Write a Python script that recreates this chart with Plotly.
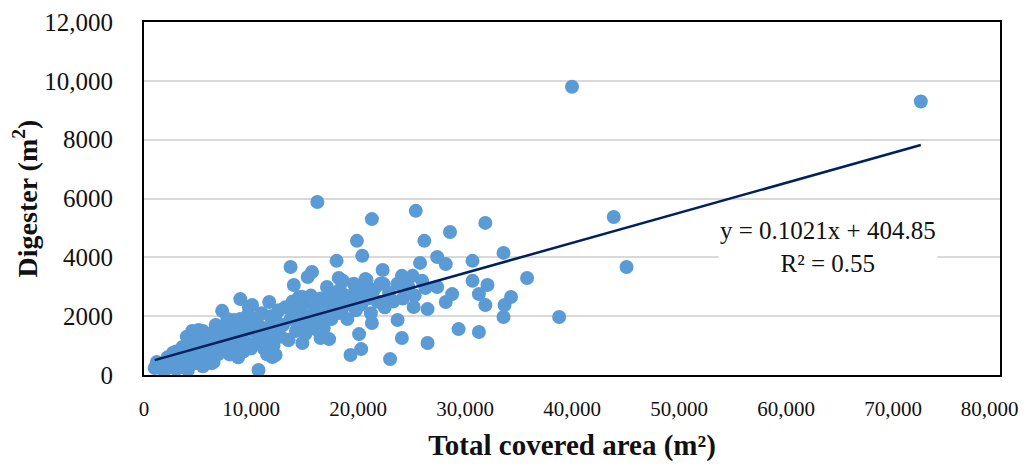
import plotly.graph_objects as go

# Scatter data (Total covered area m², Digester m²)
area_sparse = [40000, 72600, 16200, 21300, 25400, 31900, 43900, 45100, 35800, 38800,
               33600, 34300, 33700, 33600, 28600, 19900, 26200, 20400, 27400, 18000,
               25800, 28200, 30700, 22300, 15700, 15300, 13700, 24100, 25100, 30700,
               32100, 18200, 18600, 20800, 22400, 17100, 27400, 28800, 31300, 28200,
               31900, 26500, 23700, 21300, 29400, 31300, 20100, 24100, 17300, 16500,
               26500, 20300, 19300, 23000, 14800, 14800, 14800, 14000, 14500, 9000,
               7300, 10100, 11700, 9700, 12300, 8400, 13700, 5100, 4100, 6500,
               2700, 6500, 12300, 10700, 1200, 1000, 4100, 1800, 2000, 6900,
               8300, 9700, 12000, 17200, 20400, 19500, 22100, 16200, 13500, 15600,
               18400, 25200, 26300, 20700]
digester_sparse = [9800, 9300, 5880, 5300, 5580, 5170, 5370, 3670, 3300, 1970,
                   4150, 2650, 2380, 1970, 4860, 4560, 4560, 4050, 4010, 3880,
                   3810, 3770, 3880, 3570, 3500, 3330, 3670, 3370, 3370, 3200,
                   3060, 3300, 3200, 3230, 3090, 2990, 2990, 2750, 2750, 2480,
                   2380, 2240, 1870, 1770, 1560, 1460, 1390, 1260, 1220, 1260,
                   1090, 880, 680, 540, 1090, 1970, 2650, 3060, 2650, 2580,
                   2180, 2380, 2480, 2040, 2040, 1870, 2280, 1530, 1290, 1290,
                   750, 440, 680, 170, 440, 240, 170, 170, 200, 1020,
                   1800, 1970, 610, 2380, 2820, 2720, 2480, 1530, 1190, 1770,
                   2110, 2310, 2960, 3260]

area_dense = [1500, 2200, 2800, 3000, 3300, 3600, 3900, 4000, 4200, 4400,
              4500, 4700, 4900, 5000, 5200, 5400, 5500, 5700, 5900, 6000,
              6200, 6400, 6500, 6700, 6900, 7000, 7200, 7400, 7500, 7700,
              7800, 8000, 8100, 8300, 8500, 8600, 8800, 9000, 9100, 9300,
              9500, 9600, 9800, 10000, 10200, 10300, 10500, 10700, 10900, 11000,
              11200, 11400, 11600, 11800, 12000, 12100, 12400, 12600, 12800, 13000,
              13200, 13500, 13700, 13900, 14200, 14400, 14600, 14900, 15100, 15400,
              15600, 15800, 16000, 16300, 16500, 16800, 17000, 17300, 17500, 17800,
              18000, 18300, 18600, 18800, 19000, 19300, 19600, 19800, 20000, 20300,
              20600, 20900, 21200, 21500, 21800, 22100, 22500, 22900, 23300, 23700,
              24200, 24700, 25300, 26000, 6300, 5500, 3000, 2300, 8800, 11500]
digester_dense = [350, 600, 450, 800, 250, 950, 500, 1300, 700, 1000,
                  1500, 400, 1100, 800, 1300, 600, 1500, 900, 1200, 500,
                  1400, 800, 1100, 1700, 700, 1300, 1000, 1600, 800, 1200,
                  1900, 700, 1400, 1000, 1700, 1200, 900, 1900, 1300, 800,
                  1600, 1100, 2300, 900, 1500, 1900, 1100, 1700, 1300, 2100,
                  900, 1600, 1200, 2000, 1500, 1000, 1800, 2200, 1300, 1700,
                  2300, 1200, 1900, 2500, 1500, 2100, 1800, 2400, 1400, 2000,
                  2700, 1700, 2300, 1900, 2600, 1600, 2200, 2800, 1900, 2500,
                  2100, 2900, 2300, 2700, 1900, 2500, 3100, 2200, 2800, 2400,
                  3000, 2600, 2100, 2900, 2500, 3100, 2300, 2800, 2500, 3100,
                  2600, 3000, 2700, 3200, 400, 300, 200, 250, 600, 700]

slope = 0.1021
intercept = 404.85
r_squared = 0.55

x_ticks = [0, 10000, 20000, 30000, 40000, 50000, 60000, 70000, 80000]
x_labels = ["0", "10,000", "20,000", "30,000", "40,000", "50,000", "60,000", "70,000", "80,000"]
y_ticks = [0, 2000, 4000, 6000, 8000, 10000, 12000]
y_labels = ["0", "2000", "4000", "6000", "8000", "10,000", "12,000"]

area = area_sparse + area_dense
digester = digester_sparse + digester_dense

FONT = "Liberation Serif"

# pad the last x label on the right so it stays inside the page edge
x_text = x_labels[:-1] + [x_labels[-1] + "\u00a0" * 4]

fig = go.Figure()
fig.add_trace(go.Scatter(
    x=area, y=digester, mode="markers",
    marker=dict(color="#5B9BD5", size=14, line=dict(width=0)),
    showlegend=False, hoverinfo="x+y"))

x_min, x_max = min(area), max(area)
fig.add_trace(go.Scatter(
    x=[x_min, x_max], y=[slope * x_min + intercept, slope * x_max + intercept],
    mode="lines", line=dict(color="#002060", width=2.5), showlegend=False))

fig.add_annotation(
    x=63900, y=4350, xref="x", yref="y",
    text=f"y = {slope}x + {intercept}<br>R² = {r_squared}",
    showarrow=False, align="center", bgcolor="white",
    font=dict(family=FONT, size=25, color="#111"))

fig.update_layout(
    width=1029, height=466,
    margin=dict(l=136, r=37, t=14, b=99),
    paper_bgcolor="white", plot_bgcolor="white",
    font=dict(family=FONT, size=25, color="#111"),
)
fig.update_xaxes(
    range=[0, 80000], tickvals=x_ticks, ticktext=x_text,
    tickfont=dict(family=FONT, size=21),
    showgrid=False, zeroline=False, automargin=False,
    showline=True, linecolor="black", linewidth=2, mirror=True,
    ticks="", ticklabelstandoff=14, ticklabeloverflow="allow",
    title=dict(text="<b>Total covered area (m²)</b>", font=dict(family=FONT, size=29), standoff=14),
)
fig.update_yaxes(
    range=[0, 12000], tickvals=y_ticks, ticktext=y_labels,
    showgrid=True, gridcolor="#D9D9D9", gridwidth=1.5, zeroline=False, automargin=False,
    showline=True, linecolor="black", linewidth=2, mirror=True,
    ticks="", ticklabelstandoff=24,
    title=dict(text="<b>Digester (m<sup>2</sup>)</b>", font=dict(family=FONT, size=28), standoff=8),
)

fig.write_html("out.html")
